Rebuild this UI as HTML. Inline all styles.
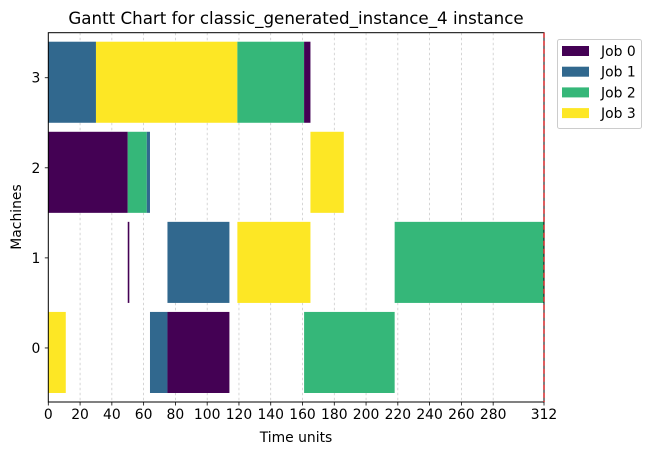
<!DOCTYPE html>
<html><head><meta charset="utf-8"><style>
html,body{margin:0;padding:0;background:#fff;}
svg{display:block;font-family:"DejaVu Sans","Liberation Sans",sans-serif;}
</style></head><body>
<svg id="chart" width="650" height="455" viewBox="0 0 650 455">
<text x="296" y="24" font-size="16.7" text-anchor="middle" fill="#000">Gantt Chart for classic_generated_instance_4 instance</text>
<g id="grid"></g>
<g id="bars"></g>
<g id="axes"></g>
<text x="296" y="442" font-size="13.9" text-anchor="middle">Time units</text>
<text x="21" y="217" font-size="13.9" text-anchor="middle" transform="rotate(-90 21 217)">Machines</text>
<g>
<rect x="557.5" y="39.5" width="84" height="89" rx="2" fill="#fff" stroke="#ccc"/>
<g id="legend-items"></g>
</g>
</svg>
<script>
const jobNames = ["Job 0","Job 1","Job 2","Job 3"];
const jobColors = ["#440154","#31688e","#35b779","#fde725"];
const machines = [0,1,2,3];
const opMachine = [3,3,3,3, 2,2,2,2, 1,1,1,1, 0,0,0,0];
const opJob     = [1,3,2,0, 0,2,1,3, 0,1,3,2, 3,1,0,2];
const opStart   = [0,30,119,161, 0,50,62,165, 50,75,119,218, 0,64,75,161];
const opEnd     = [30,119,161,165, 50,62,64,186, 51,114,165,312, 11,75,114,218];
const xTicks = [0,20,40,60,80,100,120,140,160,180,200,220,240,260,280,312];
const makespan = 312;

const NS="http://www.w3.org/2000/svg";
const L=48.3,R=544,T=32.7,B=402;
const xMin=0,xMax=312,yMin=-0.6,yMax=3.5,barH=0.9;
const sx=v=>L+(v-xMin)/(xMax-xMin)*(R-L);
const sy=v=>B-(v-yMin)/(yMax-yMin)*(B-T);
function mk(tag,attrs,parent){const e=document.createElementNS(NS,tag);for(const k in attrs)e.setAttribute(k,attrs[k]);parent.appendChild(e);return e;}
const grid=document.getElementById('grid'),bars=document.getElementById('bars'),axes=document.getElementById('axes');
xTicks.forEach(t=>{
  if(t>xMin&&t<xMax){const g=mk('line',{x1:sx(t),x2:sx(t),y1:T,y2:B,stroke:'#c4c4c4','stroke-width':0.7,'stroke-dasharray':'2.5,2.5'},grid);
  
  }
  const tk=mk('line',{x1:sx(t),x2:sx(t),y1:B,y2:B+3.5,stroke:'#000','stroke-width':0.8},axes);
  
  
  const tx=mk('text',{x:sx(t),y:B+17,'font-size':13.9,'text-anchor':'middle'},axes);
  tx.textContent=t;
  
  
});
machines.forEach(m=>{
  const tk=mk('line',{x1:L-3.5,x2:L,y1:sy(m),y2:sy(m),stroke:'#000','stroke-width':0.8},axes);
  
  
  const tx=mk('text',{x:L-8,y:sy(m)+5,'font-size':13.9,'text-anchor':'end'},axes);
  tx.textContent=m;
  
  
});
opMachine.forEach((m,i)=>{
  const x0=sx(opStart[i]),x1=sx(opEnd[i]);
  const yb=m-0.5, yt=m-0.5+barH;
  const r=mk('rect',{x:x0,y:sy(yt),width:Math.max(x1-x0,0.8),height:sy(yb)-sy(yt),fill:jobColors[opJob[i]]},bars);
  
  
});
const fr=mk('rect',{x:L,y:T,width:R-L,height:B-T,fill:'none',stroke:'#000','stroke-width':1},axes);


const ms=mk('line',{x1:sx(makespan),x2:sx(makespan),y1:T,y2:B,stroke:'#d62728','stroke-width':1.5,'stroke-dasharray':'5,3'},axes);


const li=document.getElementById('legend-items');
jobNames.forEach((n,i)=>{
  const cy=51+i*20.7;
  const p=mk('rect',{x:562,y:cy-5,width:27,height:10,fill:jobColors[i]},li);
  
  
  const t=mk('text',{x:601,y:cy+5,'font-size':13.9},li);
  t.textContent=n;
  
  
});
</script>
</body></html>
